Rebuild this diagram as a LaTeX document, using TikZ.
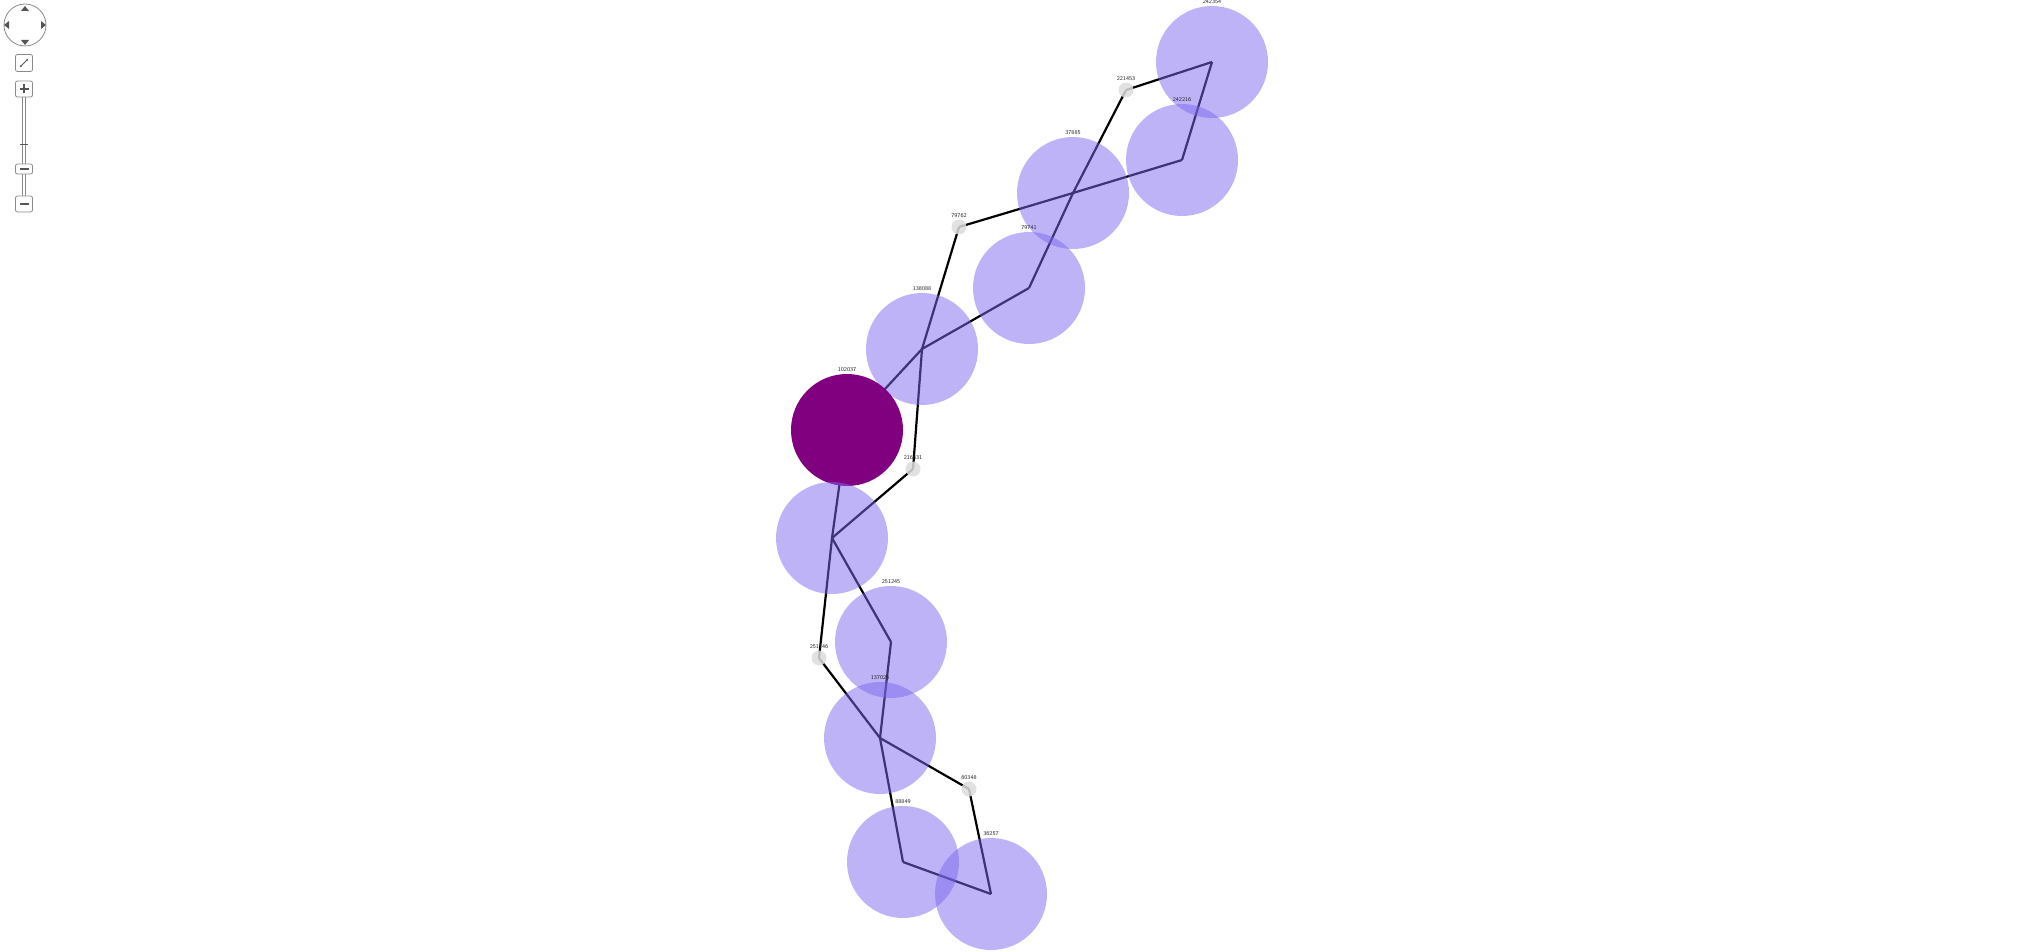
\documentclass[tikz,border=0pt]{standalone}
\usetikzlibrary{arrows.meta}
\definecolor{nodeblue}{HTML}{7B68EE}
\definecolor{nodepurple}{HTML}{800080}
\definecolor{smallgray}{HTML}{DCDCDC}
\definecolor{uigray}{HTML}{8A8A8A}
\definecolor{uidark}{HTML}{555555}
\tikzset{
  edge/.style={line width=2.2pt, black},
  big/.style={circle, minimum size=112pt, inner sep=0pt, fill=nodeblue, fill opacity=0.5, text opacity=1},
  hub/.style={circle, minimum size=112pt, inner sep=0pt, fill=nodepurple},
  small/.style={circle, minimum size=15pt, inner sep=0pt, fill=smallgray, fill opacity=0.85, text opacity=1},
  lbl/.style={font=\sffamily\fontsize{5.8}{7}\selectfont, text=black!85, inner sep=0.5pt, fill opacity=1, text opacity=1},
  uibox/.style={draw=uigray, fill=white, rounded corners=2pt, line width=0.8pt, minimum width=17pt, inner sep=0pt},
  uitri/.style={fill=uidark, draw=none}
}
\begin{document}
\begin{tikzpicture}[x=1pt,y=-1pt]
\useasboundingbox (0,0) rectangle (2044,952);
% centres
\coordinate (A) at (1212,62);
\coordinate (B) at (1126,90);
\coordinate (C) at (1182,160);
\coordinate (D) at (1073,193);
\coordinate (E) at (959,227);
\coordinate (F) at (1029,288);
\coordinate (G) at (922,349);
\coordinate (H) at (847,430);
\coordinate (I) at (913,469);
\coordinate (J) at (832,538);
\coordinate (K) at (891,642);
\coordinate (L) at (819,658);
\coordinate (M) at (880,738);
\coordinate (N) at (969,789);
\coordinate (O) at (903,862);
\coordinate (P) at (991,894);
% connectors
\draw[edge] (A) -- (B);
\draw[edge] (A) -- (C);
\draw[edge] (B) -- (D);
\draw[edge] (D) -- (F);
\draw[edge] (C) -- (D);
\draw[edge] (D) -- (E);
\draw[edge] (E) -- (G);
\draw[edge] (F) -- (G);
\draw[edge] (G) -- (H);
\draw[edge] (G) -- (I);
\draw[edge] (I) -- (J);
\draw[edge] (H) -- (J);
\draw[edge] (J) -- (L);
\draw[edge] (J) -- (K);
\draw[edge] (K) -- (M);
\draw[edge] (L) -- (M);
\draw[edge] (M) -- (N);
\draw[edge] (M) -- (O);
\draw[edge] (N) -- (P);
\draw[edge] (O) -- (P);
% nodes
\node[big, label={[lbl,label distance=1pt]above:242354}] (nA) at (A) {};
\node[small, label={[lbl,label distance=1pt]above:221453}] (nB) at (B) {};
\node[big, label={[lbl,label distance=1pt]above:242216}] (nC) at (C) {};
\node[big, label={[lbl,label distance=1pt]above:37885}] (nD) at (D) {};
\node[small, label={[lbl,label distance=1pt]above:79762}] (nE) at (E) {};
\node[big, label={[lbl,label distance=1pt]above:79741}] (nF) at (F) {};
\node[big, label={[lbl,label distance=1pt]above:138088}] (nG) at (G) {};
\node[hub, label={[lbl,label distance=1pt]above:102037}] (nH) at (H) {};
\node[small, label={[lbl,label distance=1pt]above:216631}] (nI) at (I) {};
\node[big] (nJ) at (J) {};
\node[big, label={[lbl,label distance=1pt]above:251245}] (nK) at (K) {};
\node[small, label={[lbl,label distance=1pt]above:251146}] (nL) at (L) {};
\node[big, label={[lbl,label distance=1pt]above:137026}] (nM) at (M) {};
\node[small, label={[lbl,label distance=1pt]above:60348}] (nN) at (N) {};
\node[big, label={[lbl,label distance=1pt]above:88849}] (nO) at (O) {};
\node[big, label={[lbl,label distance=1pt]above:36257}] (nP) at (P) {};
% navigation controls
\draw[uigray, line width=0.8pt, fill=white] (25,25) circle (21);
\fill[uitri] (21,11) -- (29,11) -- (25,6) -- cycle;
\fill[uitri] (21,40) -- (29,40) -- (25,45) -- cycle;
\fill[uitri] (9,21) -- (9,29) -- (4,25) -- cycle;
\fill[uitri] (41,21) -- (41,29) -- (46,25) -- cycle;
% slider rails
\draw[uigray, line width=0.6pt] (22.7,96) -- (22.7,197) (25.3,96) -- (25.3,197);
\draw[uidark, line width=1pt] (20,145) -- (28,145);
\node[uibox, minimum height=17pt] (bfit) at (24,63) {};
\draw[uidark, line width=0.8pt, {Latex[length=2.5pt]}-{Latex[length=2.5pt]}] (19.5,67.5) -- (28.5,58.5);
\node[uibox, minimum height=16pt] (bplus) at (24,89) {};
\draw[uidark, line width=1.8pt] (19.5,89) -- (28.5,89) (24,84.5) -- (24,93.5);
\node[uibox, minimum height=10pt] (bmid) at (24,169) {};
\draw[uidark, line width=1.8pt] (19.5,169) -- (28.5,169);
\node[uibox, minimum height=16pt] (bminus) at (24,204) {};
\draw[uidark, line width=1.8pt] (19.5,204) -- (28.5,204);
\end{tikzpicture}
\end{document}
